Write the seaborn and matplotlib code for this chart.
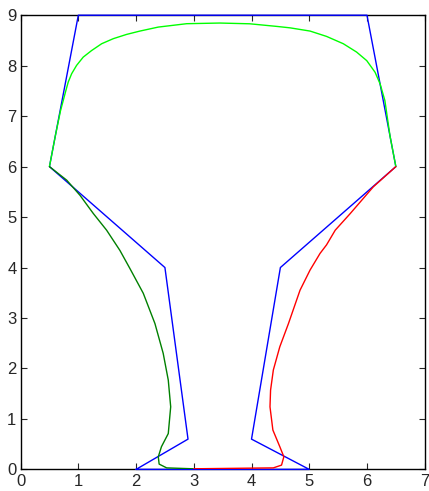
import matplotlib
matplotlib.use("Agg")
import matplotlib.pyplot as plt
import pandas as pd
import seaborn as sns

# control polygon
poly_x = [2, 2.9, 2.5, 0.5, 1, 6, 6.5, 4.5, 4, 5, 2]
poly_y = [0, 0.6, 4, 6, 9, 9, 6, 4, 0.6, 0, 0]

# top curve (bright green)
top_x = [0.5, 0.6, 0.69, 0.785, 0.825, 0.884, 0.97, 1.085, 1.23, 1.404, 1.605,
         1.837, 2.067, 2.385, 2.877, 3.45, 3.97, 4.44, 4.667, 5.014, 5.30, 5.59,
         5.82, 5.996, 6.14, 6.227, 6.31, 6.40, 6.5]
top_y = [6.0, 6.6, 7.1, 7.51, 7.675, 7.84, 8.006, 8.17, 8.30, 8.435, 8.535,
         8.62, 8.686, 8.765, 8.832, 8.845, 8.83, 8.778, 8.75, 8.686, 8.58, 8.435,
         8.27, 8.10, 7.87, 7.64, 7.31, 6.6, 6.0]

# left curve (dark green)
left_x = [0.5, 0.80, 1.03, 1.26, 1.49, 1.72, 1.894, 2.125, 2.327, 2.47, 2.558,
          2.60, 2.558, 2.44, 2.385, 2.40, 2.53, 2.99]
left_y = [6.0, 5.73, 5.43, 5.07, 4.74, 4.34, 3.98, 3.49, 2.89, 2.30, 1.77,
          1.24, 0.71, 0.45, 0.25, 0.105, 0.03, 0.012]

# right curve (red)
right_x = [6.5, 6.11, 5.71, 5.45, 5.30, 5.187, 5.014, 4.84, 4.64, 4.49, 4.378,
           4.33, 4.32, 4.37, 4.49, 4.56, 4.52, 4.378, 3.0]
right_y = [6.0, 5.6, 5.07, 4.74, 4.45, 4.28, 3.95, 3.55, 2.89, 2.43, 1.97,
           1.57, 1.24, 0.78, 0.45, 0.25, 0.085, 0.03, 0.012]

sns.set_style("ticks", {"xtick.direction": "in", "ytick.direction": "in"})
plt.rcParams['font.family'] = ['Liberation Sans Narrow', 'Liberation Sans', 'DejaVu Sans']

fig = plt.figure(figsize=(4.29, 4.91), dpi=100)
ax = fig.add_axes([0.048, 0.044, 0.942, 0.925])

poly = pd.DataFrame({'x': poly_x, 'y': poly_y})
top = pd.DataFrame({'x': top_x, 'y': top_y})
left = pd.DataFrame({'x': left_x, 'y': left_y})
right = pd.DataFrame({'x': right_x, 'y': right_y})

sns.lineplot(data=poly, x='x', y='y', sort=False, estimator=None, color='#0000ff',
             lw=1, ax=ax, clip_on=False, zorder=3)
sns.lineplot(data=top, x='x', y='y', sort=False, estimator=None, color='#00ff00',
             lw=1, ax=ax, zorder=4)
sns.lineplot(data=left, x='x', y='y', sort=False, estimator=None, color='#008000',
             lw=1, ax=ax, zorder=4)
sns.lineplot(data=right, x='x', y='y', sort=False, estimator=None, color='#ff0000',
             lw=1, ax=ax, zorder=5)

ax.set_xlim(0, 7)
ax.set_ylim(0, 9)
ax.set_xticks(range(0, 8))
ax.set_yticks(range(0, 10))
ax.set_xlabel('')
ax.set_ylabel('')
for s in ax.spines.values():
    s.set_color('black')
    s.set_linewidth(1)
ax.tick_params(axis='both', direction='in', length=4, width=0.8, labelsize=12,
               top=True, right=True, pad=3)

fig.savefig('out.png', dpi=100)
